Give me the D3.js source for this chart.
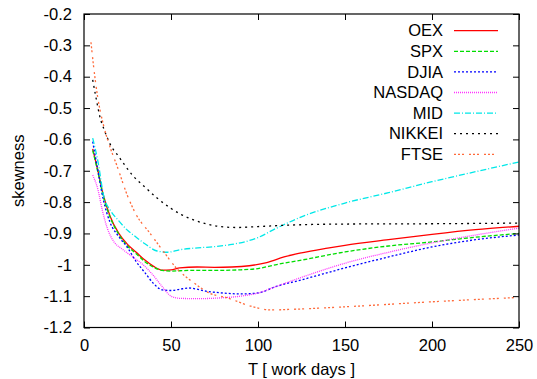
<!DOCTYPE html>
<html><head><meta charset="utf-8">
<script src="https://cdn.jsdelivr.net/npm/d3@7"></script>
<style>
html,body{margin:0;padding:0;background:#fff;}
text{font-family:"Liberation Sans",Arial,Helvetica,sans-serif;}
</style></head>
<body><svg id="c" width="537" height="379"></svg>
<script>
const seriesNames = ["OEX","SPX","DJIA","NASDAQ","MID","NIKKEI","FTSE"];
const seriesColors = ["#ff0000","#00dd00","#0000ff","#ff33ff","#00e8e8","#000000","#ff6a3a"];
const seriesDash = ["", "4,2", "2,2", "1,1", "6,2,1,2", "2,4", "2,2,2,2,2,5"];

const oexT = [5,8,11,15,20,25,30,35,40,45,50,55,65,75,85,95,105,115,125,140,150,175,200,225,250];
const oexV = [-0.63,-0.70,-0.775,-0.845,-0.90,-0.935,-0.96,-0.985,-1.005,-1.017,-1.016,-1.01,-1.007,-1.008,-1.007,-1.003,-0.993,-0.975,-0.962,-0.947,-0.938,-0.92,-0.903,-0.888,-0.877];

const spxT = [5,8,11,15,20,25,30,35,40,45,50,60,75,90,100,110,125,150,175,200,225,250];
const spxV = [-0.635,-0.705,-0.78,-0.848,-0.903,-0.94,-0.965,-0.99,-1.008,-1.018,-1.02,-1.018,-1.018,-1.016,-1.012,-1.0,-0.985,-0.959,-0.94,-0.927,-0.912,-0.9];

const djiaT = [5,8,11,15,20,25,30,35,40,45,50,55,60,70,80,90,100,110,125,150,175,200,225,250];
const djiaV = [-0.607,-0.70,-0.79,-0.865,-0.91,-0.945,-0.99,-1.025,-1.06,-1.08,-1.082,-1.078,-1.074,-1.084,-1.09,-1.093,-1.09,-1.07,-1.048,-1.01,-0.975,-0.943,-0.92,-0.905];

const nasdaqT = [5,8,10.5,13.5,17,22,28,34,40,45,50,55,65,80,90,100,110,125,150,175,200,225,250];
const nasdaqV = [-0.714,-0.76,-0.825,-0.885,-0.925,-0.95,-0.975,-1.0,-1.035,-1.07,-1.1,-1.107,-1.108,-1.105,-1.1,-1.09,-1.07,-1.04,-0.995,-0.96,-0.93,-0.905,-0.883];

const midT = [5,8,11.5,15,20,25,30,35,42,48,55,63,75,85,100,110,125,150,175,200,225,250];
const midV = [-0.596,-0.67,-0.785,-0.825,-0.86,-0.89,-0.912,-0.933,-0.956,-0.96,-0.952,-0.947,-0.942,-0.935,-0.913,-0.885,-0.847,-0.803,-0.77,-0.735,-0.703,-0.672];

const nikkeiT = [5,7,9,12,15,20,28,35,42,50,56,63,70,78,88,100,120,150,200,250];
const nikkeiV = [-0.41,-0.47,-0.525,-0.575,-0.615,-0.655,-0.715,-0.752,-0.787,-0.82,-0.84,-0.857,-0.869,-0.878,-0.881,-0.878,-0.873,-0.87,-0.869,-0.867];

const ftseT = [4,6,8,11,15,19,25,30,38,46,53,63,72,82,96,107,120,150,200,250];
const ftseV = [-0.29,-0.39,-0.47,-0.55,-0.625,-0.685,-0.78,-0.84,-0.90,-0.96,-1.01,-1.057,-1.09,-1.105,-1.132,-1.144,-1.142,-1.134,-1.118,-1.104];

const xTicks = [0,50,100,150,200,250];
const yTicks = [-1.2,-1.1,-1,-0.9,-0.8,-0.7,-0.6,-0.5,-0.4,-0.3,-0.2];
const xTitle = "T [ work days ]";
const yTitle = "skewness";

const allT = [oexT,spxT,djiaT,nasdaqT,midT,nikkeiT,ftseT];
const allV = [oexV,spxV,djiaV,nasdaqV,midV,nikkeiV,ftseV];

const svg = d3.select("#c");
const L=84, R=519, T=14, B=327.5;
const x = d3.scaleLinear().domain([0,250]).range([L,R]);
const y = d3.scaleLinear().domain([-1.2,-0.2]).range([B,T]);
const fs = "16.5px";

const g = svg.append("g");
svg.append("clipPath").attr("id","pc").append("rect").attr("x",L).attr("y",T).attr("width",R-L).attr("height",B-T);
const line = d3.line().x(d=>x(d[0])).y(d=>y(d[1])).curve(d3.curveMonotoneX);
seriesNames.forEach((n,i)=>{
  const pts = allT[i].map((t,j)=>[t,allV[i][j]]);
  g.append("path").attr("d",line(pts)).attr("fill","none")
   .attr("stroke",seriesColors[i]).attr("stroke-width",1.3)
   .attr("stroke-dasharray",seriesDash[i]||null).attr("clip-path","url(#pc)");
});

const xAxB = d3.axisBottom(x).tickValues(xTicks).tickSizeInner(-6).tickSizeOuter(0).tickPadding(12).tickFormat(d3.format("d"));
const xAxT = d3.axisTop(x).tickValues(xTicks).tickSizeInner(-6).tickSizeOuter(0).tickFormat("");
const yAxL = d3.axisLeft(y).tickValues(yTicks).tickSizeInner(-6).tickSizeOuter(0).tickPadding(12).tickFormat(d=>String(Math.round(d*10)/10));
const yAxR = d3.axisRight(y).tickValues(yTicks).tickSizeInner(-6).tickSizeOuter(0).tickFormat("");
function style(sel){
  sel.select(".domain").remove();
  sel.selectAll("line").attr("stroke","#000").attr("stroke-width",1);
  sel.selectAll("text").attr("font-size",fs).attr("fill","#000").attr("font-family","Liberation Sans, Arial, sans-serif");
}
svg.append("g").attr("transform",`translate(0,${B})`).call(xAxB).call(style);
svg.append("g").attr("transform",`translate(0,${T})`).call(xAxT).call(style);
svg.append("g").attr("transform",`translate(${L},0)`).call(yAxL).call(style);
svg.append("g").attr("transform",`translate(${R},0)`).call(yAxR).call(style);
svg.append("rect").attr("x",L).attr("y",T).attr("width",R-L).attr("height",B-T)
  .attr("fill","none").attr("stroke","#000").attr("stroke-width",1.2);

svg.append("text").attr("x",(L+R)/2).attr("y",374.5).attr("text-anchor","middle").attr("font-size",fs).text(xTitle);
svg.append("text").attr("transform",`translate(23.5,${(T+B)/2}) rotate(-90)`).attr("text-anchor","middle").attr("font-size",fs).text(yTitle);

const lg = svg.append("g");
seriesNames.forEach((n,i)=>{
  const cy = 30.7 + i*20.6;
  lg.append("text").attr("x",443).attr("y",cy).attr("dy","0.35em").attr("text-anchor","end").attr("font-size",fs).text(n);
  lg.append("line").attr("x1",454).attr("x2",498).attr("y1",cy).attr("y2",cy)
    .attr("stroke",seriesColors[i]).attr("stroke-width",1.3).attr("stroke-dasharray",seriesDash[i]||null);
});
</script></body></html>
